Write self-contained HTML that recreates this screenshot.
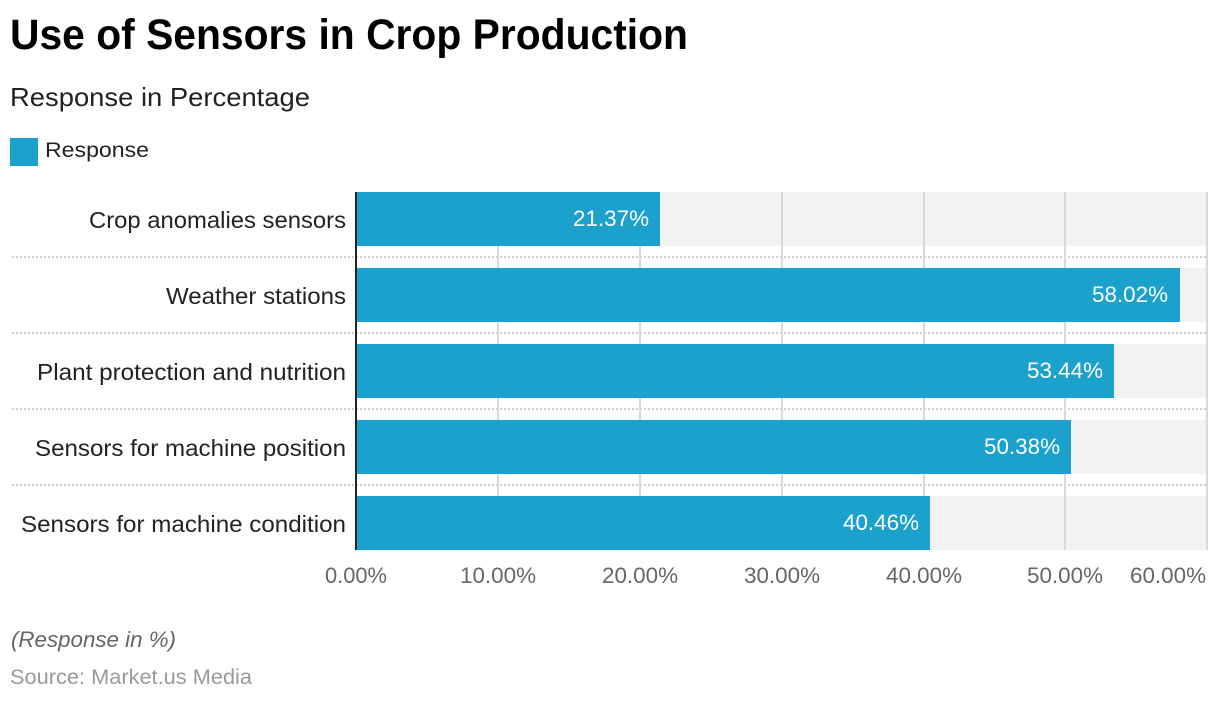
<!DOCTYPE html>
<html><head><meta charset="utf-8"><style>
html,body{margin:0;padding:0;background:#fff;}
svg{display:block;font-family:"Liberation Sans",Arial,sans-serif;}
</style></head><body>
<svg width="1220" height="702" viewBox="0 0 1220 702" xmlns="http://www.w3.org/2000/svg">
<rect width="1220" height="702" fill="#fff"/>
<text x="10" y="49" font-size="43" font-weight="bold" fill="#000" textLength="678" lengthAdjust="spacingAndGlyphs">Use of Sensors in Crop Production</text>
<text x="10" y="106" font-size="26" fill="#222" textLength="300" lengthAdjust="spacingAndGlyphs">Response in Percentage</text>
<rect x="10" y="138" width="28" height="28" fill="#1aa1cc"/>
<text x="45" y="157" font-size="21" fill="#222" textLength="104" lengthAdjust="spacingAndGlyphs">Response</text>

<!-- row backgrounds -->
<g fill="#f2f2f2">
<rect x="357" y="192" width="850" height="54"/>
<rect x="357" y="268" width="850" height="54"/>
<rect x="357" y="344" width="850" height="54"/>
<rect x="357" y="420" width="850" height="54"/>
<rect x="357" y="496" width="850" height="54"/>
</g>
<!-- dotted separators -->
<g stroke="#cccccc" stroke-width="2" stroke-dasharray="2,2">
<line x1="12" y1="257" x2="1207" y2="257"/>
<line x1="12" y1="333" x2="1207" y2="333"/>
<line x1="12" y1="409" x2="1207" y2="409"/>
<line x1="12" y1="485" x2="1207" y2="485"/>
</g>
<!-- gridlines -->
<g stroke="#d9d9d9" stroke-width="2">
<line x1="498" y1="192" x2="498" y2="550"/>
<line x1="640" y1="192" x2="640" y2="550"/>
<line x1="782" y1="192" x2="782" y2="550"/>
<line x1="924" y1="192" x2="924" y2="550"/>
<line x1="1065" y1="192" x2="1065" y2="550"/>
<line x1="1207" y1="192" x2="1207" y2="550"/>
</g>
<!-- bars -->
<g fill="#1aa1cc">
<rect x="357" y="192" width="303" height="54"/>
<rect x="357" y="268" width="823" height="54"/>
<rect x="357" y="344" width="757" height="54"/>
<rect x="357" y="420" width="714" height="54"/>
<rect x="357" y="496" width="573" height="54"/>
</g>
<!-- axis -->
<rect x="355" y="192" width="2" height="358" fill="#222"/>

<!-- value labels -->
<g font-size="22" fill="#fff" text-anchor="end">
<text x="649" y="226" textLength="76" lengthAdjust="spacingAndGlyphs">21.37%</text>
<text x="1168" y="302" textLength="76" lengthAdjust="spacingAndGlyphs">58.02%</text>
<text x="1103" y="378" textLength="76" lengthAdjust="spacingAndGlyphs">53.44%</text>
<text x="1060" y="454" textLength="76" lengthAdjust="spacingAndGlyphs">50.38%</text>
<text x="919" y="530" textLength="76" lengthAdjust="spacingAndGlyphs">40.46%</text>
</g>
<!-- category labels -->
<g font-size="23" fill="#222" text-anchor="end">
<text x="346" y="228" textLength="257" lengthAdjust="spacingAndGlyphs">Crop anomalies sensors</text>
<text x="346" y="304" textLength="180" lengthAdjust="spacingAndGlyphs">Weather stations</text>
<text x="346" y="380" textLength="309" lengthAdjust="spacingAndGlyphs">Plant protection and nutrition</text>
<text x="346" y="456" textLength="311" lengthAdjust="spacingAndGlyphs">Sensors for machine position</text>
<text x="346" y="532" textLength="325" lengthAdjust="spacingAndGlyphs">Sensors for machine condition</text>
</g>
<!-- tick labels -->
<g font-size="22" fill="#666" text-anchor="middle">
<text x="356" y="583" textLength="62" lengthAdjust="spacingAndGlyphs">0.00%</text>
<text x="498" y="583" textLength="76" lengthAdjust="spacingAndGlyphs">10.00%</text>
<text x="640" y="583" textLength="76" lengthAdjust="spacingAndGlyphs">20.00%</text>
<text x="782" y="583" textLength="76" lengthAdjust="spacingAndGlyphs">30.00%</text>
<text x="924" y="583" textLength="76" lengthAdjust="spacingAndGlyphs">40.00%</text>
<text x="1065" y="583" textLength="76" lengthAdjust="spacingAndGlyphs">50.00%</text>
<text x="1206" y="583" text-anchor="end" textLength="76" lengthAdjust="spacingAndGlyphs">60.00%</text>
</g>
<text x="11" y="647" font-size="22" font-style="italic" fill="#666" textLength="165" lengthAdjust="spacingAndGlyphs">(Response in %)</text>
<text x="10" y="684" font-size="21" fill="#999" textLength="242" lengthAdjust="spacingAndGlyphs">Source: Market.us Media</text>
</svg>
</body></html>
